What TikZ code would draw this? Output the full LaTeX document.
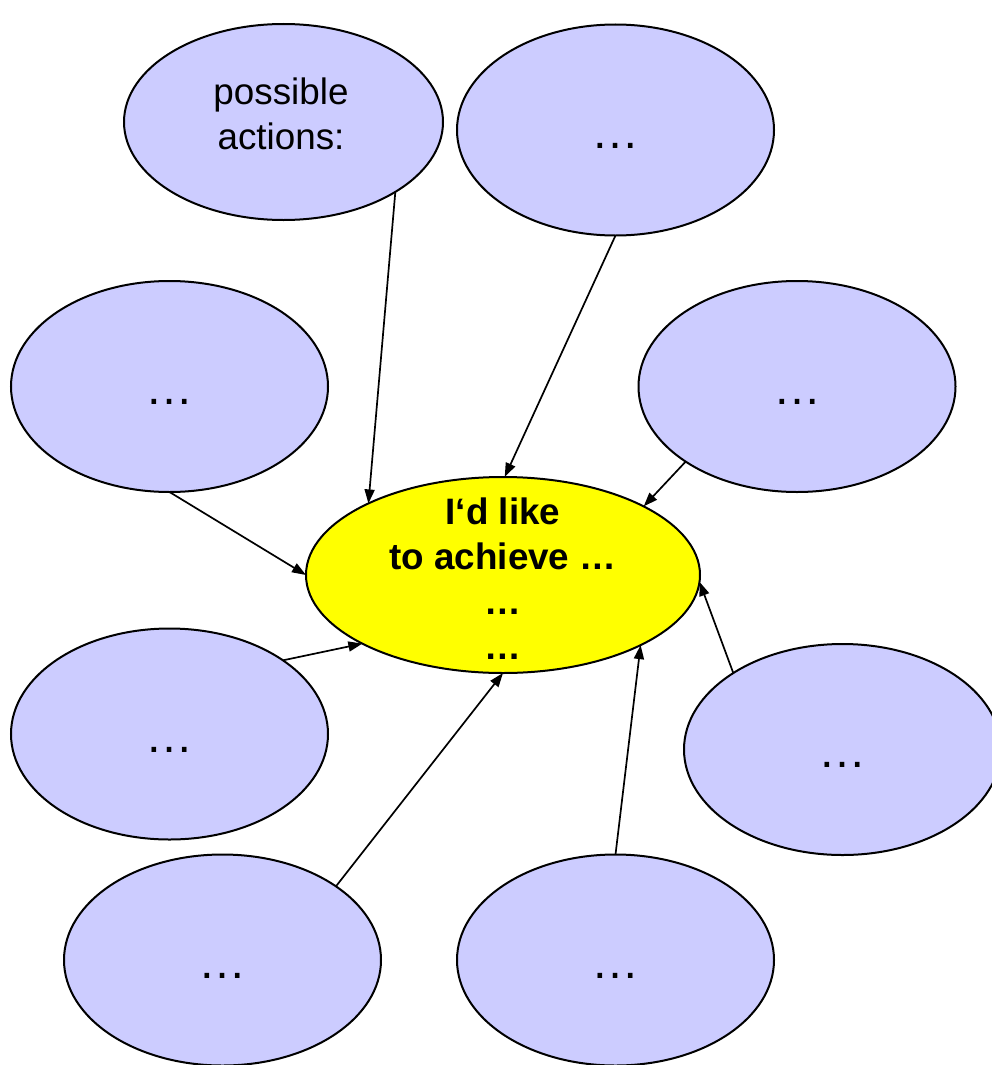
\documentclass[tikz,border=0pt]{standalone}
\usepackage{fontspec}
\setmainfont{Liberation Sans}
\usetikzlibrary{shapes.geometric,arrows.meta}
\begin{document}
\begin{tikzpicture}[x=1pt,y=-1pt,
  idea/.style={ellipse,draw=black,line width=2pt,fill=idea,
    minimum width=317pt,minimum height=211pt,inner sep=0pt,outer sep=0pt,
    font=\fontsize{48}{56}\selectfont,text height=44pt,text depth=8pt},
  goal/.style={ellipse,draw=black,line width=2pt,fill=goalfill,
    minimum width=394pt,minimum height=196pt,inner sep=0pt,outer sep=0pt},
  label/.style={font=\fontsize{36.8}{45}\selectfont,align=center,inner sep=0pt},
  link/.style={line width=1.7pt,-{Triangle[length=14pt,width=10pt]}}]
\definecolor{idea}{HTML}{CCCCFF}
\definecolor{goalfill}{HTML}{FFFF00}
\useasboundingbox (0,0) rectangle (992,1065);

% outer ideas
\node[idea,minimum width=319pt,minimum height=196pt,text height=0pt,text depth=0pt] (act) at (283.5,122) {};
\node[label] (acttext) at (281,114) {possible\\ actions:};
\node[idea] (tr) at (615.5,130) {…};
\node[idea] (ml) at (169.5,386.5) {…};
\node[idea] (mr) at (797,386.5) {…};
\node[idea] (ll) at (169.5,734) {…};
\node[idea] (lr) at (842.5,749.5) {…};
\node[idea] (bl) at (222.5,960) {…};
\node[idea] (br) at (615.5,960) {…};

% central goal
\node[goal] (goal) at (503,575) {};
\node[label,font=\fontsize{36.8}{45}\selectfont\bfseries] (goaltext) at (503,578.5)
  {I‘d like\\ to achieve …\\ …\\ …};

% connectors towards the goal
\draw[link] (act.-32) -- (goal.152.8);
\draw[link] (tr.-90) -- (goal.89);
\draw[link] (ml.-90) -- (goal.180);
\draw[link] (mr.214) -- (goal.26.6);
\draw[link] (ll.33.3) -- (goal.206.9);
\draw[link] (bl.33.1) -- (goal.-90);
\draw[link] (br.90) -- (goal.-27.6);
\draw[link] (lr.145.4) -- (goal.-2);
\end{tikzpicture}
\end{document}
